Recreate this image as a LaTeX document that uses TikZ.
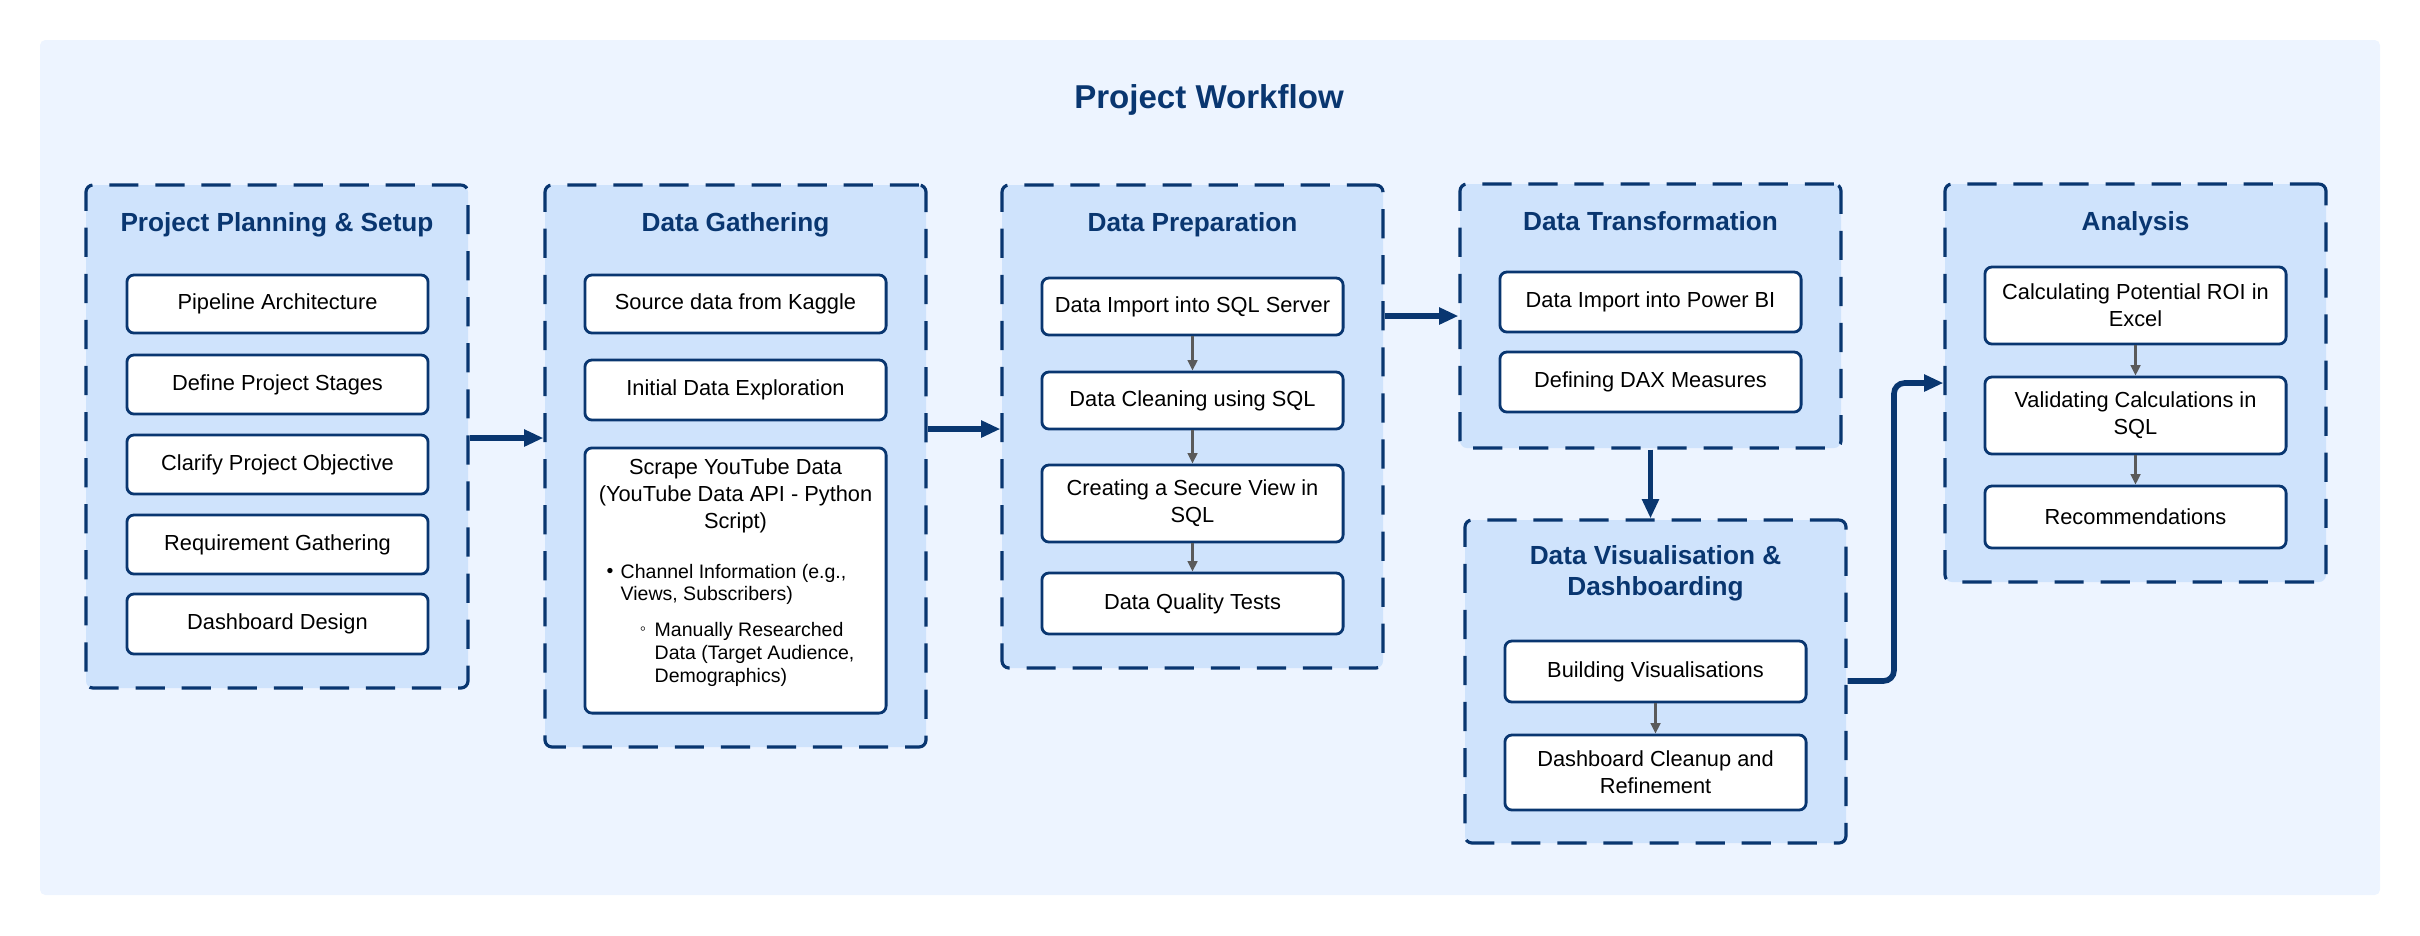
\documentclass[tikz,border=0pt]{standalone}
\usepackage{fontspec}
\setmainfont{Liberation Sans}
\usetikzlibrary{arrows.meta,fit}
\definecolor{bgblue}{RGB}{237,244,255}
\definecolor{grpfill}{RGB}{207,227,252}
\definecolor{navy}{RGB}{9,54,112}
\definecolor{arrgray}{RGB}{90,90,90}
\tikzset{
 grp/.style={draw=navy, fill=grpfill, line width=0.9pt, dash pattern=on 8.3pt off 4.8pt, rounded corners=2pt, inner sep=0pt},
 box/.style={draw=navy, fill=white, line width=0.8pt, rounded corners=2pt, inner sep=0pt, align=center, minimum width=3.01cm, font=\fontsize{6.2}{7.6}\selectfont},
 gtitle/.style={text=navy, inner sep=0pt, font=\bfseries\fontsize{7.45}{8.9}\selectfont, align=center},
 bultext/.style={inner sep=0pt, align=left, anchor=west, font=\fontsize{5.55}{6.5}\selectfont},
 bigarrow/.style={draw=navy, line width=1.6pt, -{Triangle[length=5.5pt,width=4.6pt]}},
 smallarrow/.style={draw=arrgray, line width=0.6pt, -{Triangle[length=3pt,width=2.8pt]}},
}
\begin{document}
\begin{tikzpicture}[x=0.01cm,y=-0.01cm]
\useasboundingbox (0,0) rectangle (2420,935);
\fill[bgblue, rounded corners=1.5pt] (40,40) rectangle (2380,895);
\node[text=navy, inner sep=0pt, anchor=base, font=\bfseries\fontsize{9.4}{11}\selectfont] (title) at (1209,108) {Project Workflow};

% Group 1
\node[grp, fit={(86,185)(468,688)}] (g1) {};
\node[gtitle, anchor=base] (g1t) at (277,231) {Project Planning \& Setup};
\node[box, minimum height=0.58cm] (a1) at (277.5,304) {Pipeline Architecture};
\node[box, minimum height=0.59cm] (a2) at (277.5,384.5) {Define Project Stages};
\node[box, minimum height=0.59cm] (a3) at (277.5,464.5) {Clarify Project Objective};
\node[box, minimum height=0.59cm] (a4) at (277.5,544.5) {Requirement Gathering};
\node[box, minimum height=0.60cm] (a5) at (277.5,624) {Dashboard Design};

% Group 2
\node[grp, fit={(545,185)(926,747)}] (g2) {};
\node[gtitle, anchor=base] (g2t) at (735.5,231) {Data Gathering};
\node[box, minimum height=0.58cm] (b1) at (735.5,304) {Source data from Kaggle};
\node[box, minimum height=0.60cm] (b2) at (735.5,390) {Initial Data Exploration};
\node[box, minimum height=2.65cm] (b3) at (735.5,580.5) {};
\node[inner sep=0pt, align=center, font=\fontsize{6.2}{7.7}\selectfont] (b3t) at (735.5,496) {Scrape YouTube Data\\(YouTube Data API - Python\\Script)};
\node[inner sep=0pt, font=\fontsize{5.55}{6.5}\selectfont] (b3b1) at (610,573) {•};
\node[bultext] (b3x1) at (620,584.5) {Channel Information (e.g.,\\Views, Subscribers)};
\node[inner sep=0pt, font=\fontsize{5}{6}\selectfont] (b3b2) at (643,631) {◦};
\node[bultext] (b3x2) at (654,654.5) {Manually Researched\\Data (Target Audience,\\Demographics)};

% Group 3
\node[grp, fit={(1002,185)(1383,668)}] (g3) {};
\node[gtitle, anchor=base] (g3t) at (1192.5,231) {Data Preparation};
\node[box, minimum height=0.57cm] (c1) at (1192.5,306.5) {Data Import into SQL Server};
\node[box, minimum height=0.57cm] (c2) at (1192.5,400.5) {Data Cleaning using SQL};
\node[box, minimum height=0.77cm] (c3) at (1192.5,503.5) {Creating a Secure View in\\SQL};
\node[box, minimum height=0.61cm] (c4) at (1192.5,603.5) {Data Quality Tests};
\draw[smallarrow] (c1) -- (c2);
\draw[smallarrow] (c2) -- (c3);
\draw[smallarrow] (c3) -- (c4);

% Group 4
\node[grp, fit={(1460,184)(1841,448)}] (g4) {};
\node[gtitle, anchor=base] (g4t) at (1650.5,230) {Data Transformation};
\node[box, minimum height=0.60cm] (d1) at (1650.5,302) {Data Import into Power BI};
\node[box, minimum height=0.60cm] (d2) at (1650.5,382) {Defining DAX Measures};

% Group 5
\node[grp, fit={(1465,520)(1846,843)}] (g5) {};
\node[gtitle] (g5t) at (1655.5,573) {Data Visualisation \&\\Dashboarding};
\node[box, minimum height=0.61cm] (e1) at (1655.5,671.5) {Building Visualisations};
\node[box, minimum height=0.75cm] (e2) at (1655.5,772.5) {Dashboard Cleanup and\\Refinement};
\draw[smallarrow] (e1) -- (e2);

% Group 6
\node[grp, fit={(1945,184)(2326,582)}] (g6) {};
\node[gtitle, anchor=base] (g6t) at (2135.5,230) {Analysis};
\node[box, minimum height=0.77cm] (f1) at (2135.5,305.5) {Calculating Potential ROI in\\Excel};
\node[box, minimum height=0.77cm] (f2) at (2135.5,415.5) {Validating Calculations in\\SQL};
\node[box, minimum height=0.62cm] (f3) at (2135.5,517) {Recommendations};
\draw[smallarrow] (f1) -- (f2);
\draw[smallarrow] (f2) -- (f3);

% Big arrows
\coordinate (y12) at (0,438);
\coordinate (y23) at (0,429);
\coordinate (k1) at (1894,681);
\coordinate (k2) at (1894,383);
\draw[bigarrow] (g1.east |- y12) -- (g2.west |- y12);
\draw[bigarrow] (g2.east |- y23) -- (g3.west |- y23);
\draw[bigarrow] (g3.east |- g4.west) -- (g4.west);
\draw[bigarrow] (g4.south) -- (g5.north -| g4.south);
\draw[bigarrow, rounded corners=3pt] (k1 -| g5.east) -- (k1) -- (k2) -- (k2 -| g6.west);
\end{tikzpicture}
\end{document}
